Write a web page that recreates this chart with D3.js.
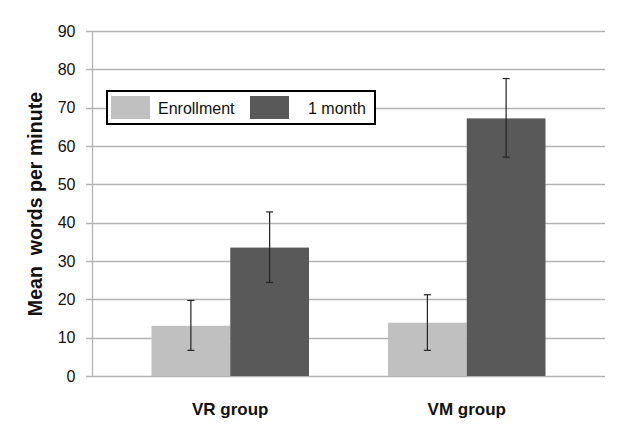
<!DOCTYPE html>
<html><head><meta charset="utf-8">
<script src="https://cdn.jsdelivr.net/npm/d3@7/dist/d3.min.js"></script>
<style>body{margin:0;background:#fff;}svg{display:block;font-family:"Liberation Sans",Arial,sans-serif;}</style>
</head><body>
<svg id="c" width="622" height="426"></svg>
<script>
const categories = ["VR group", "VM group"];
const seriesNames = ["Enrollment", "1 month"];
const enrollment = [13.1, 13.9];
const oneMonth = [33.5, 67.2];
const enrollmentErrLow = [6.7, 6.7];
const enrollmentErrHigh = [19.7, 21.2];
const oneMonthErrLow = [24.4, 57.1];
const oneMonthErrHigh = [42.8, 77.6];
const yTicks = [0, 10, 20, 30, 40, 50, 60, 70, 80, 90];
const colors = ["#c0c0c0", "#595959"];

const svg = d3.select("#c");
const y = d3.scaleLinear().domain([0, 90]).range([376, 31]);
const x0 = d3.scaleBand().domain(categories).range([112, 585]).paddingInner(0).paddingOuter(0);
const x1 = d3.scaleBand().domain(seriesNames).range([39.5, x0.bandwidth() - 39.5]).padding(0);

// gridlines
svg.append("g").selectAll("line").data(yTicks).join("line")
  .attr("x1", 86).attr("x2", 605)
  .attr("y1", d => Math.round(y(d)) + 0.5).attr("y2", d => Math.round(y(d)) + 0.5)
  .attr("stroke", "#b3b3b3").attr("stroke-width", 1.3);
// y axis line
svg.append("line").attr("x1", 92.5).attr("x2", 92.5).attr("y1", y(90)).attr("y2", y(0))
  .attr("stroke", "#b3b3b3").attr("stroke-width", 1.3);

// y tick labels
svg.append("g").selectAll("text").data(yTicks).join("text")
  .attr("x", 75.5).attr("y", d => y(d)).attr("dy", "0.36em")
  .attr("text-anchor", "end").attr("font-size", 16).attr("fill", "#111")
  .text(d => d);

// y title
svg.append("text").attr("transform", "translate(42,204) rotate(-90)")
  .attr("text-anchor", "middle").attr("font-size", 19.6).attr("font-weight", "bold")
  .attr("fill", "#111").style("white-space", "pre")
  .text("Mean  words per minute");

const data = categories.map((c, i) => ({
  cat: c,
  vals: [
    {s: seriesNames[0], v: enrollment[i], lo: enrollmentErrLow[i], hi: enrollmentErrHigh[i], col: colors[0]},
    {s: seriesNames[1], v: oneMonth[i], lo: oneMonthErrLow[i], hi: oneMonthErrHigh[i], col: colors[1]}
  ]
}));

const g = svg.append("g").selectAll("g").data(data).join("g")
  .attr("transform", d => `translate(${x0(d.cat)},0)`);
g.selectAll("rect").data(d => d.vals).join("rect")
  .attr("x", d => x1(d.s)).attr("width", x1.bandwidth())
  .attr("y", d => y(d.v)).attr("height", d => y(0) - y(d.v))
  .attr("fill", d => d.col);

const eb = g.selectAll("g.err").data(d => d.vals).join("g").attr("class", "err")
  .attr("stroke", "#222").attr("stroke-width", 1.2);
eb.append("line").attr("x1", d => x1(d.s) + x1.bandwidth() / 2).attr("x2", d => x1(d.s) + x1.bandwidth() / 2)
  .attr("y1", d => y(d.hi)).attr("y2", d => y(d.lo));
eb.append("line").attr("x1", d => x1(d.s) + x1.bandwidth() / 2 - 3.5).attr("x2", d => x1(d.s) + x1.bandwidth() / 2 + 3.5)
  .attr("y1", d => y(d.hi)).attr("y2", d => y(d.hi));
eb.append("line").attr("x1", d => x1(d.s) + x1.bandwidth() / 2 - 3.5).attr("x2", d => x1(d.s) + x1.bandwidth() / 2 + 3.5)
  .attr("y1", d => y(d.lo)).attr("y2", d => y(d.lo));

// x labels
svg.append("g").selectAll("text").data(categories).join("text")
  .attr("x", d => x0(d) + x0.bandwidth() / 2).attr("y", 415)
  .attr("text-anchor", "middle").attr("font-size", 17).attr("font-weight", "bold").attr("fill", "#111")
  .text(d => d);

// legend
const lg = svg.append("g");
lg.append("rect").attr("x", 107).attr("y", 91).attr("width", 268).attr("height", 33)
  .attr("fill", "#fff").attr("stroke", "#000").attr("stroke-width", 2);
const legendItems = [
  {name: seriesNames[0], col: colors[0], sx: 111, tx: 158},
  {name: seriesNames[1], col: colors[1], sx: 250, tx: 308}
];
legendItems.forEach(it => {
  lg.append("rect").attr("x", it.sx).attr("y", 96).attr("width", 39).attr("height", 23).attr("fill", it.col);
  lg.append("text").attr("x", it.tx).attr("y", 114).attr("font-size", 16).attr("fill", "#111").text(it.name);
});
</script>
</body></html>
